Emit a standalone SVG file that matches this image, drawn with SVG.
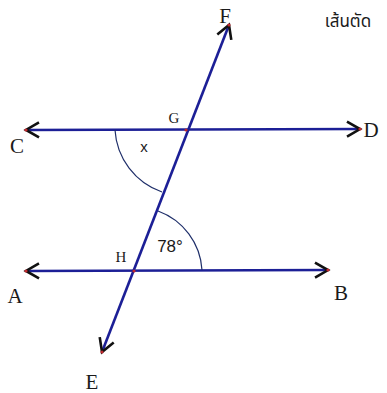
<svg xmlns="http://www.w3.org/2000/svg" width="387" height="393" viewBox="0 0 387 393">
<defs>
<style>
.ln{stroke:#1c1f96;stroke-width:2.6;fill:none}
.arc{stroke:#1f2f6a;stroke-width:1.2;fill:none}
.dot{fill:#c0282d}
.lbl{font-family:"Liberation Serif",serif;fill:#1a1a1a}
.sans{font-family:"Liberation Sans",Arial,sans-serif;fill:#1a1a1a}
.thai{font-family:"Noto Sans","Noto Sans Thai","DejaVu Sans",sans-serif;fill:#1a1a1a}
</style>
<marker id="ah" markerUnits="userSpaceOnUse" markerWidth="20" markerHeight="20" viewBox="-16 -10 20 20" refX="0" refY="0" orient="auto-start-reverse">
<path d="M -13,-7.5 L 0,0 L -13,7.5" stroke="#111" stroke-width="2.6" fill="none" stroke-linejoin="miter"/>
</marker>
</defs>
<rect width="387" height="393" fill="#fff"/>
<g id="connectors">
<line id="CD" class="ln" x1="26" y1="130" x2="360" y2="129" marker-start="url(#ah)" marker-end="url(#ah)"/>
<line id="AB" class="ln" x1="26" y1="271" x2="328" y2="270" marker-start="url(#ah)" marker-end="url(#ah)"/>
<line id="EF" class="ln" x1="102" y1="352" x2="229" y2="25" marker-start="url(#ah)" marker-end="url(#ah)"/>
<path id="arcx" class="arc" d="M 115,130 A 70 70 0 0 0 162,192"/>
<path id="arc78" class="arc" d="M 158,211 A 67 67 0 0 1 202,270"/>
</g>
<g id="dots">
<circle class="dot" cx="26" cy="130" r="1.6"/>
<circle class="dot" cx="360" cy="129" r="1.6"/>
<circle class="dot" cx="26" cy="271" r="1.6"/>
<circle class="dot" cx="328" cy="270" r="1.6"/>
<circle class="dot" cx="229" cy="25" r="1.6"/>
<circle class="dot" cx="102" cy="352" r="1.6"/>
<circle class="dot" cx="186" cy="130" r="1.6"/>
<circle class="dot" cx="134" cy="271" r="1.6"/>
</g>
<g id="F"><text class="lbl" x="225" y="23" font-size="21" text-anchor="middle">F</text></g>
<g id="title"><text class="thai" x="348" y="27" font-size="17" text-anchor="middle">เส้นตัด</text></g>
<g id="G"><text class="lbl" x="174" y="123" font-size="15" text-anchor="middle">G</text></g>
<g id="D"><text class="lbl" x="371" y="137" font-size="21" text-anchor="middle">D</text></g>
<g id="C"><text class="lbl" x="17" y="153" font-size="21" text-anchor="middle">C</text></g>
<g id="x"><text class="sans" x="144" y="152" font-size="15" text-anchor="middle">x</text></g>
<g id="a78"><text class="sans" x="170" y="252" font-size="17" text-anchor="middle">78°</text></g>
<g id="H"><text class="lbl" x="121" y="262" font-size="15" text-anchor="middle">H</text></g>
<g id="A"><text class="lbl" x="15" y="303" font-size="21" text-anchor="middle">A</text></g>
<g id="B"><text class="lbl" x="341" y="300" font-size="21" text-anchor="middle">B</text></g>
<g id="E"><text class="lbl" x="92" y="389" font-size="21" text-anchor="middle">E</text></g>
</svg>
